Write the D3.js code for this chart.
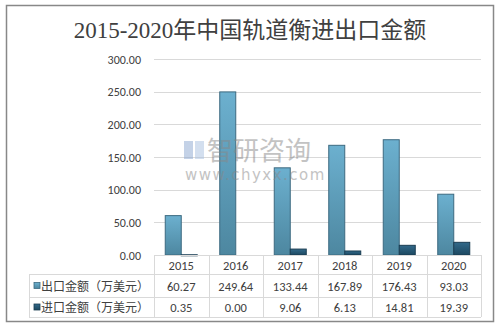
<!DOCTYPE html>
<html><head><meta charset="utf-8">
<script src="https://cdn.jsdelivr.net/npm/d3@7"></script>
<style>body{margin:0;background:#fff}svg{display:block}</style>
</head><body>
<script>
const years = ["2015","2016","2017","2018","2019","2020"];
const exportVals = [60.27,249.64,133.44,167.89,176.43,93.03];
const importVals = [0.35,0.00,9.06,6.13,14.81,19.39];
const seriesNames = ["出口金额（万美元）","进口金额（万美元）"];
const yTicks = [0,50,100,150,200,250,300];
const title = "2015-2020年中国轨道衡进出口金额";

(function(){
const W=502,H=328;
const svg=d3.select("body").append("svg").attr("width",W).attr("height",H);
const defs=svg.append("defs");
const g1=defs.append("linearGradient").attr("id","gExp").attr("x1",0).attr("y1",0).attr("x2",0).attr("y2",1);
g1.append("stop").attr("offset","0%").attr("stop-color","#6cb0cf");
g1.append("stop").attr("offset","100%").attr("stop-color","#4d87a0");
const g2=defs.append("linearGradient").attr("id","gImp").attr("x1",0).attr("y1",0).attr("x2",0).attr("y2",1);
g2.append("stop").attr("offset","0%").attr("stop-color","#32698a");
g2.append("stop").attr("offset","100%").attr("stop-color","#1c4860");

svg.append("rect").attr("x",6.5).attr("y",5.5).attr("width",487).attr("height",316).attr("fill","#fff").attr("stroke","#888").attr("stroke-width",1.5);

svg.append("text").attr("x",250).attr("y",38).attr("text-anchor","middle")
 .attr("font-family","'Liberation Serif','Noto Sans CJK SC'").attr("font-size",23).attr("fill","#404040").text(title);

const pl=154,pr=481,pt=59,pb=255;
const x=d3.scaleBand().domain(years).range([pl,pr]);
const y=d3.scaleLinear().domain([0,300]).range([pb,pt]);

const grid=svg.append("g");
grid.selectAll("line").data(yTicks).join("line")
 .attr("x1",pl).attr("x2",pr).attr("y1",d=>Math.round(y(d))+0.5).attr("y2",d=>Math.round(y(d))+0.5)
 .attr("stroke","#d9d9d9").attr("stroke-width",1);

const yAxis=svg.append("g").attr("transform",`translate(${pl-10},0)`)
 .call(d3.axisLeft(y).tickValues(yTicks).tickFormat(d3.format(".2f")).tickSize(0));
yAxis.select(".domain").remove();
yAxis.selectAll("text").attr("font-family","Carlito,'Liberation Sans','Noto Sans'").attr("font-size",12).attr("fill","#404040").attr("dy","0.35em");

const bw=16;
const bars=svg.append("g");
bars.selectAll("rect.e").data(years).join("rect").attr("class","e")
 .attr("x",(d)=>x(d)+x.bandwidth()/2-bw).attr("width",bw)
 .attr("y",(d,i)=>y(exportVals[i])).attr("height",(d,i)=>y(0)-y(exportVals[i]))
 .attr("fill","url(#gExp)").attr("stroke","#3c6a80").attr("stroke-width",1);
bars.selectAll("rect.i").data(years.filter((d,i)=>importVals[i]>0)).join("rect").attr("class","i")
 .attr("x",(d)=>x(d)+x.bandwidth()/2).attr("width",bw)
 .attr("y",d=>y(importVals[years.indexOf(d)])).attr("height",d=>Math.max(1,y(0)-y(importVals[years.indexOf(d)])))
 .attr("fill","url(#gImp)").attr("stroke","#1a3d52").attr("stroke-width",1);

// watermark
const wm=svg.append("g").attr("opacity",0.5);
wm.append("rect").attr("x",184).attr("y",141).attr("width",9).attr("height",18).attr("fill","#8aa6d0");
wm.append("rect").attr("x",195).attr("y",141).attr("width",9).attr("height",18).attr("fill","#a8c0e0");
wm.append("text").attr("x",207).attr("y",160).attr("font-family","'Noto Sans CJK SC'").attr("font-size",26).attr("fill","#888").text("智研咨询");
wm.append("text").attr("x",185).attr("y",180).attr("font-family","'DejaVu Sans'").attr("font-size",15).attr("letter-spacing",1.5).attr("fill","#888").text("www.chyxx.com");

// table
const tl=29, rows=[255,274,297,317];
const tg=svg.append("g").attr("stroke","#d9d9d9").attr("stroke-width",1);
tg.append("line").attr("x1",pl).attr("x2",pr).attr("y1",rows[0]+0.5).attr("y2",rows[0]+0.5);
[1,2,3].forEach(r=>tg.append("line").attr("x1",tl).attr("x2",pr).attr("y1",rows[r]+0.5).attr("y2",rows[r]+0.5));
tg.append("line").attr("x1",tl+0.5).attr("x2",tl+0.5).attr("y1",rows[1]).attr("y2",rows[3]);
years.concat(["end"]).forEach((d,i)=>{
  const xx=Math.round(pl+i*x.bandwidth())+0.5;
  tg.append("line").attr("x1",xx).attr("x2",xx).attr("y1",rows[0]).attr("y2",rows[3]);
});
const tf="Carlito,'Liberation Sans','Noto Sans'";
svg.append("g").selectAll("text").data(years).join("text")
 .attr("x",d=>x(d)+x.bandwidth()/2).attr("y",(rows[0]+rows[1])/2+1).attr("dy","0.35em")
 .attr("text-anchor","middle").attr("font-family",tf).attr("font-size",12.5).attr("fill","#404040").text(d=>d);
[exportVals,importVals].forEach((vals,r)=>{
  const cy=(rows[r+1]+rows[r+2])/2;
  svg.append("g").selectAll("text").data(years).join("text")
   .attr("x",d=>x(d)+x.bandwidth()/2).attr("y",cy+1).attr("dy","0.35em")
   .attr("text-anchor","middle").attr("font-family",tf).attr("font-size",12.5).attr("fill","#404040")
   .text((d,i)=>d3.format(".2f")(vals[i]));
  svg.append("rect").attr("x",34).attr("y",cy-3).attr("width",6).attr("height",6)
   .attr("fill",r===0?"url(#gExp)":"url(#gImp)").attr("stroke",r===0?"#3c6a80":"#1a3d52").attr("stroke-width",0.8);
  svg.append("text").attr("x",41).attr("y",cy+1).attr("dy","0.35em")
   .attr("font-family","'Noto Sans CJK SC'").attr("font-size",12).attr("fill","#404040").text(seriesNames[r]);
});
})();
</script>
</body></html>
